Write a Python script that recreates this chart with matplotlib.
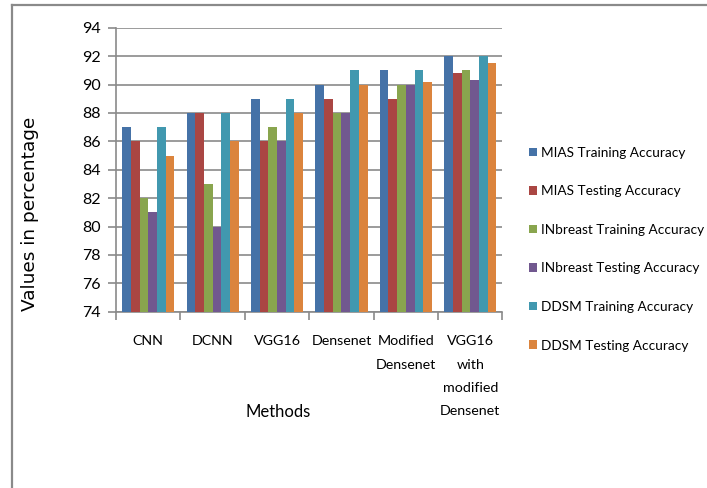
import matplotlib
matplotlib.use("Agg")
import matplotlib.pyplot as plt
from matplotlib.lines import Line2D
import numpy as np

methods = ["CNN", "DCNN", "VGG16", "Densenet", "Modified\nDensenet",
           "VGG16\nwith\nmodified\nDensenet"]
series_names = ["MIAS Training Accuracy", "MIAS Testing Accuracy",
                "INbreast Training Accuracy", "INbreast Testing Accuracy",
                "DDSM Training Accuracy", "DDSM Testing Accuracy"]
mias_train = [87, 88, 89, 90, 91, 92]
mias_test = [86, 88, 86, 89, 89, 90.8]
inbreast_train = [82, 83, 87, 88, 90, 91]
inbreast_test = [81, 80, 86, 88, 90, 90.3]
ddsm_train = [87, 88, 89, 91, 91, 92]
ddsm_test = [85, 86, 88, 90, 90.2, 91.5]
series_values = [mias_train, mias_test, inbreast_train, inbreast_test,
                 ddsm_train, ddsm_test]
colors = ["#4572A7", "#AA4643", "#89A54E", "#71588F", "#4198AF", "#DB843D"]
y_ticks = list(range(74, 95, 2))

plt.rcParams["font.family"] = ["Lato", "DejaVu Sans"]

W, H = 707, 488
fig = plt.figure(figsize=(W / 100, H / 100), dpi=100)
ax = fig.add_axes([116 / W, (H - 311.7) / H, 386.5 / W, 284 / H])

n_groups = len(methods)
n_series = len(series_values)
bar_w = 0.135
x = np.arange(n_groups)
handles = []
for i, (vals, col, name) in enumerate(zip(series_values, colors, series_names)):
    offs = (i - (n_series - 1) / 2) * bar_w
    b = ax.bar(x + offs, np.array(vals) - 74, bottom=74, width=bar_w,
               color=col, label=name, zorder=3, linewidth=0)
    handles.append(b)

ax.set_xlim(-0.5, n_groups - 0.5)
ax.set_ylim(74, 94)
ax.set_yticks(y_ticks)
ax.set_yticklabels([str(t) for t in y_ticks], fontsize=11.5)
ax.yaxis.grid(True, color="#8a8a8a", linewidth=1.2, zorder=0)
ax.set_axisbelow(True)

ax.set_xticks(np.arange(-0.5, n_groups, 1.0))
ax.set_xticklabels([])
ax.set_xticks(x, minor=True)
ax.set_xticklabels(methods, minor=True, fontsize=10.3, linespacing=2.12,
                   va="top")
ax.tick_params(axis="x", which="minor", length=0, pad=17)
ax.tick_params(axis="x", which="major", length=6, color="#8a8a8a", width=1.2)
ax.tick_params(axis="y", length=6, color="#8a8a8a", width=1.2, pad=5)

for side in ["top", "right"]:
    ax.spines[side].set_visible(False)
for side in ["left", "bottom"]:
    ax.spines[side].set_color("#8a8a8a")
    ax.spines[side].set_linewidth(1.2)

fig.text(278 / W, 1 - 412 / H, "Methods", fontsize=12, ha="center",
         va="center")
fig.text(30 / W, 1 - 214 / H, "Values in percentage", rotation=90,
         fontsize=13.3, ha="center", va="center",
         family=["DejaVu Sans"])

leg = fig.legend(handles=handles, labels=series_names, loc="upper left",
                 bbox_to_anchor=(522 / W, 1 - 140 / H), frameon=False,
                 fontsize=9.8, handlelength=0.6, handleheight=0.6,
                 handletextpad=0.3, labelspacing=1.95, borderpad=0)

# outer frame
fig.add_artist(Line2D([12 / W, 12 / W], [0, 1 - 5 / H], color="#8a8a8a",
                      linewidth=1.6, transform=fig.transFigure))
fig.add_artist(Line2D([12 / W, 1], [1 - 5 / H, 1 - 5 / H], color="#8a8a8a",
                      linewidth=1.6, transform=fig.transFigure))

fig.savefig("out.png", dpi=100)
